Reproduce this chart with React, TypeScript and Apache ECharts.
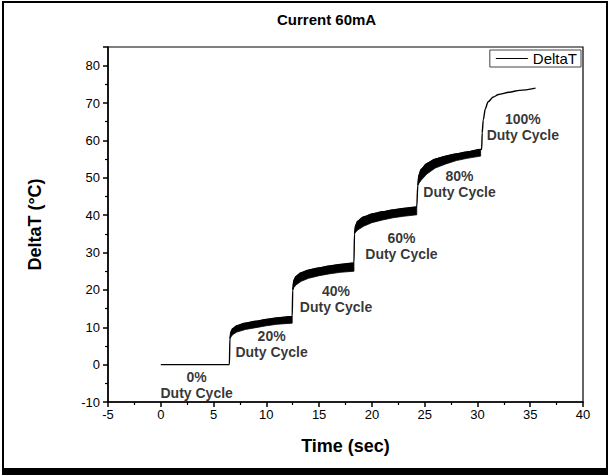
import React, { useEffect, useRef } from "react";
import * as echarts from "echarts";

// ---- data ----
const flatTime = [0, 6.5];
const flatVal = [0, 0];

const seg1Time = [6.55, 6.65, 6.8, 7.2, 8, 9, 10, 11, 12.45];
const seg1Upper = [7, 8.8, 9.6, 10.4, 11.1, 11.6, 12.1, 12.5, 12.9];
const seg1Lower = [7, 7.4, 8.0, 8.7, 9.4, 9.9, 10.4, 10.8, 11.1];

const seg2Time = [12.5, 12.6, 12.8, 13.3, 14, 15, 16, 17, 18.3];
const seg2Upper = [20, 22.5, 23.6, 24.6, 25.3, 25.9, 26.4, 26.8, 27.2];
const seg2Lower = [20, 20.6, 21.3, 22.3, 23.1, 23.8, 24.3, 24.7, 25.0];

const seg3Time = [18.35, 18.45, 18.65, 19.2, 20, 21, 22, 23, 24.25];
const seg3Upper = [35, 37.2, 38.4, 39.5, 40.3, 40.9, 41.4, 41.8, 42.2];
const seg3Lower = [35, 35.4, 36.0, 37.0, 38.0, 38.7, 39.3, 39.7, 40.1];

const seg4Time = [24.35, 24.45, 24.65, 25.2, 26, 27, 28, 29, 30.3];
const seg4Upper = [48, 50.6, 52.2, 53.8, 55, 55.8, 56.4, 56.9, 57.6];
const seg4Lower = [48, 48.5, 49.3, 51, 52.6, 53.7, 54.6, 55.2, 55.8];

const seg5Time = [30.4, 30.45, 30.55, 30.75, 31, 31.5, 32, 33, 34, 35.5];
const seg5Val = [57.6, 62, 65.5, 68.5, 70.3, 71.6, 72.3, 72.9, 73.4, 74];

const noteTime = [3.4, 10.5, 16.6, 22.8, 28.3, 34.3];
const noteTemp = [-5.5, 5.4, 17.5, 31.7, 48.3, 63.7];
const notePct = ["0%", "20%", "40%", "60%", "80%", "100%"];

const xTicks = { min: -5, max: 40, interval: 5 };
const yTicks = { min: -10, max: 85, interval: 10 };

const FONT = "'Liberation Sans', Arial, Helvetica, sans-serif";

export default function App() {
  const ref = useRef<HTMLDivElement>(null);

  useEffect(() => {
    if (!ref.current) return;
    const chart = echarts.init(ref.current, undefined, { renderer: "svg" });

    const zip = (t: number[], v: number[]) => t.map((x, i) => [x, v[i]]);
    const mainData = [
      ...zip(flatTime, flatVal),
      ...zip(seg1Time, seg1Upper),
      ...zip(seg2Time, seg2Upper),
      ...zip(seg3Time, seg3Upper),
      ...zip(seg4Time, seg4Upper),
      ...zip(seg5Time, seg5Val),
    ];

    const bands = [
      [seg1Time, seg1Upper, seg1Lower],
      [seg2Time, seg2Upper, seg2Lower],
      [seg3Time, seg3Upper, seg3Lower],
      [seg4Time, seg4Upper, seg4Lower],
    ];

    chart.setOption({
      animation: false,
      backgroundColor: "#fff",
      textStyle: { fontFamily: FONT },
      title: {
        text: "Current 60mA",
        left: 272,
        top: 7,
        textStyle: { fontFamily: FONT, fontSize: 15, fontWeight: "bold", color: "#000" },
      },
      legend: {
        data: [{ name: "DeltaT", icon: "rect" }],
        right: 30,
        top: 50,
        itemWidth: 32,
        itemHeight: 1,
        itemGap: 4,
        padding: [1, 4, 1, 6],
        borderColor: "#444",
        borderWidth: 1,
        textStyle: { fontFamily: FONT, fontSize: 15, color: "#000" },
      },
      grid: {
        left: 108,
        right: 28,
        top: 47,
        bottom: 73,
        show: true,
        borderColor: "#000",
        borderWidth: 1.2,
        backgroundColor: "transparent",
      },
      xAxis: {
        type: "value",
        min: xTicks.min,
        max: xTicks.max,
        interval: xTicks.interval,
        name: "Time (sec)",
        nameLocation: "middle",
        nameGap: 35,
        nameTextStyle: { fontFamily: FONT, fontSize: 18, fontWeight: "bold", color: "#000" },
        axisLine: { onZero: false, lineStyle: { color: "#000", width: 1.5 } },
        axisTick: { show: true, inside: false, length: 5, lineStyle: { color: "#000", width: 1.5 } },
        minorTick: { show: true, splitNumber: 2, length: 3, lineStyle: { color: "#000", width: 1.2 } },
        axisLabel: { fontFamily: FONT, fontSize: 13, color: "#000", margin: 6 },
        splitLine: { show: false },
      },
      yAxis: {
        type: "value",
        min: yTicks.min,
        max: yTicks.max,
        interval: yTicks.interval,
        name: "DeltaT (°C)",
        nameLocation: "middle",
        nameGap: 64,
        nameTextStyle: { fontFamily: FONT, fontSize: 18, fontWeight: "bold", color: "#000" },
        axisLine: { onZero: false, lineStyle: { color: "#000", width: 1.5 } },
        axisTick: { show: true, inside: false, length: 5, lineStyle: { color: "#000", width: 1.5 } },
        minorTick: { show: true, splitNumber: 2, length: 3, lineStyle: { color: "#000", width: 1.2 } },
        axisLabel: {
          fontFamily: FONT,
          fontSize: 13,
          color: "#000",
          margin: 8,
          showMaxLabel: false,
          formatter: (v: number) => (v > 80 ? "" : String(v)),
        },
        splitLine: { show: false },
      },
      graphic: [
        {
          type: "rect",
          shape: { x: 3, y: 2, width: 604, height: 467 },
          style: { fill: "transparent", stroke: "#000", lineWidth: 2 },
          silent: true,
        },
        {
          type: "rect",
          shape: { x: 2, y: 468, width: 606, height: 7 },
          style: { fill: "#000" },
          silent: true,
        },
      ],
      series: [
        {
          type: "custom",
          name: "band",
          data: bands.map((_, k) => [k, 0]),
          silent: true,
          renderItem: (params: any, api: any) => {
            const k = api.value(0);
            const [t, up, lo] = bands[k];
            const top = t.map((x, i) => api.coord([x, up[i]]));
            const bot = t.map((x, i) => api.coord([x, lo[i]])).reverse();
            return {
              type: "polygon",
              shape: { points: [...top, ...bot] },
              style: { fill: "#000", stroke: "#000", lineWidth: 0.8 },
            };
          },
          z: 4,
        },
        {
          type: "line",
          name: "DeltaT",
          data: mainData,
          symbol: "none",
          color: "#000",
          lineStyle: { color: "#000", width: 1.4 },
          smooth: 0.3,
          smoothMonotone: "x",
          z: 5,
        },
        {
          type: "scatter",
          name: "notes",
          data: noteTime.map((t, i) => [t, noteTemp[i], notePct[i]]),
          symbolSize: 1,
          itemStyle: { color: "transparent" },
          label: {
            show: true,
            position: "inside",
            formatter: (p: any) => p.value[2] + "\nDuty Cycle",
            fontFamily: FONT,
            fontSize: 14,
            fontWeight: "bold",
            lineHeight: 16,
            color: "#000",
            align: "center",
          },
          silent: true,
          z: 6,
        },
      ],
    });

    return () => chart.dispose();
  }, []);

  return (
    <div
      ref={ref}
      style={{ position: "fixed", left: 0, top: 0, width: 611, height: 475 }}
    />
  );
}
